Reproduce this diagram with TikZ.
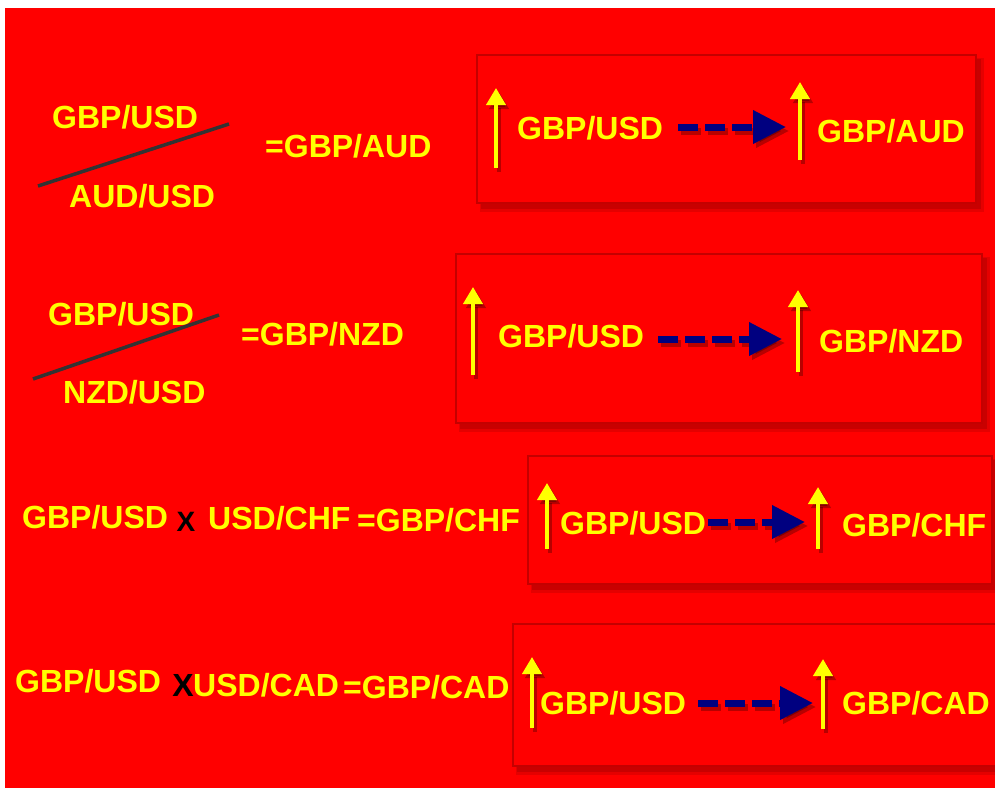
\documentclass[tikz,border=0pt]{standalone}
\usepackage{fontspec}
\setmainfont{Liberation Sans}
\usetikzlibrary{arrows.meta}
\definecolor{bg}{HTML}{FF0000}
\definecolor{boxline}{HTML}{C40000}
\definecolor{txt}{HTML}{FFFF00}
\definecolor{navyb}{HTML}{000080}
\definecolor{slash}{HTML}{333333}
\tikzset{
  lbl/.style={text=txt, font=\fontsize{32}{36}\selectfont\bfseries, inner sep=0pt, text height=23pt, text depth=0pt, anchor=west},
  times/.style={text=black, font=\fontsize{#1}{36}\selectfont\bfseries, inner sep=0pt},
  upar/.style={draw=txt, line width=4pt, -{Triangle[length=17pt,width=19pt]}},
  dasharr/.style={draw=navyb, line width=7pt, dash pattern=on 20pt off 7pt, -{Triangle[length=33pt,width=32pt]}},
  sh/.style={draw=black, opacity=.28, transform canvas={shift={(3pt,-4pt)}}},
  divline/.style={draw=slash, line width=3.5pt},
}
\newcommand\rbox[4]{%
  \fill[black,opacity=0.10] ({#1+3},{#2+3}) rectangle ({#3+8},{#4+9});
  \fill[black,opacity=0.12] ({#1+4},{#2+4}) rectangle ({#3+5},{#4+6});
  \fill[bg] (#1,#2) rectangle (#3,#4);
  \draw[boxline, line width=1.8pt] (#1,#2) rectangle (#3,#4);
}
\begin{document}
\begin{tikzpicture}[x=1pt,y=-1pt]
\useasboundingbox (0,0) rectangle (995,788);
\clip (0,0) rectangle (995,788);
\fill[white] (0,0) rectangle (995,788);
\fill[bg] (5,8) rectangle (995,788);

% ---------- left side ----------
\node[lbl] (g1) at (52,117) {GBP/USD};
\node[lbl] (a1) at (69,196) {AUD/USD};
\coordinate (d1s) at (38,186); \coordinate (d1e) at (229,124);
\draw[divline] (d1s) -- (d1e);
\node[lbl] (e1) at (265,146) {=GBP/AUD};

\node[lbl] (g2) at (48,314) {GBP/USD};
\node[lbl] (n2) at (63,392) {NZD/USD};
\coordinate (d2s) at (33,379); \coordinate (d2e) at (219,315);
\draw[divline] (d2s) -- (d2e);
\node[lbl] (e2) at (241,334) {=GBP/NZD};

\node[lbl] (g3) at (22,517) {GBP/USD};
\node[times=28] (x3) at (186,522) {X};
\node[lbl] (u3) at (208,518) {USD/CHF};
\node[lbl] (e3) at (357,520) {=GBP/CHF};

\node[lbl] (g4) at (15,681) {GBP/USD};
\node[times=32] (x4) at (183,685) {X};
\node[lbl] (u4) at (193,685) {USD/CAD};
\node[lbl] (e4) at (343,687) {=GBP/CAD};

% ---------- boxes ----------
\rbox{477}{55}{976}{203}
\rbox{456}{254}{982}{423}
\rbox{528}{456}{992}{584}
\rbox{513}{624}{1010}{766}

% box 1
\coordinate (b1ls) at (496,168); \coordinate (b1lt) at (496,88);
\coordinate (b1rs) at (800,160); \coordinate (b1rt) at (800,82);
\coordinate (b1ds) at (678,127); \coordinate (b1dt) at (786,127);
\node[lbl] (b1u) at (517,128) {GBP/USD};
\node[lbl] (b1c) at (817,131) {GBP/AUD};
\draw[upar,sh] (b1ls) -- (b1lt); \draw[upar] (b1ls) -- (b1lt);
\draw[upar,sh] (b1rs) -- (b1rt); \draw[upar] (b1rs) -- (b1rt);
\draw[dasharr,sh] (b1ds) -- (b1dt); \draw[dasharr] (b1ds) -- (b1dt);

% box 2
\coordinate (b2ls) at (473,375); \coordinate (b2lt) at (473,287);
\coordinate (b2rs) at (798,372); \coordinate (b2rt) at (798,290);
\coordinate (b2ds) at (658,339); \coordinate (b2dt) at (782,339);
\node[lbl] (b2u) at (498,336) {GBP/USD};
\node[lbl] (b2c) at (819,341) {GBP/NZD};
\draw[upar,sh] (b2ls) -- (b2lt); \draw[upar] (b2ls) -- (b2lt);
\draw[upar,sh] (b2rs) -- (b2rt); \draw[upar] (b2rs) -- (b2rt);
\draw[dasharr,sh] (b2ds) -- (b2dt); \draw[dasharr] (b2ds) -- (b2dt);

% box 3
\coordinate (b3ls) at (547,549); \coordinate (b3lt) at (547,483);
\coordinate (b3rs) at (818,549); \coordinate (b3rt) at (818,487);
\coordinate (b3ds) at (708,522); \coordinate (b3dt) at (805,522);
\node[lbl] (b3u) at (560,523) {GBP/USD};
\node[lbl] (b3c) at (842,525) {GBP/CHF};
\draw[upar,sh] (b3ls) -- (b3lt); \draw[upar] (b3ls) -- (b3lt);
\draw[upar,sh] (b3rs) -- (b3rt); \draw[upar] (b3rs) -- (b3rt);
\draw[dasharr,sh] (b3ds) -- (b3dt); \draw[dasharr] (b3ds) -- (b3dt);

% box 4
\coordinate (b4ls) at (532,728); \coordinate (b4lt) at (532,657);
\coordinate (b4rs) at (823,729); \coordinate (b4rt) at (823,659);
\coordinate (b4ds) at (698,703); \coordinate (b4dt) at (813,703);
\node[lbl] (b4u) at (540,703) {GBP/USD};
\node[lbl] (b4c) at (842,703) {GBP/CAD};
\draw[upar,sh] (b4ls) -- (b4lt); \draw[upar] (b4ls) -- (b4lt);
\draw[upar,sh] (b4rs) -- (b4rt); \draw[upar] (b4rs) -- (b4rt);
\draw[dasharr,sh] (b4ds) -- (b4dt); \draw[dasharr] (b4ds) -- (b4dt);
\end{tikzpicture}
\end{document}
